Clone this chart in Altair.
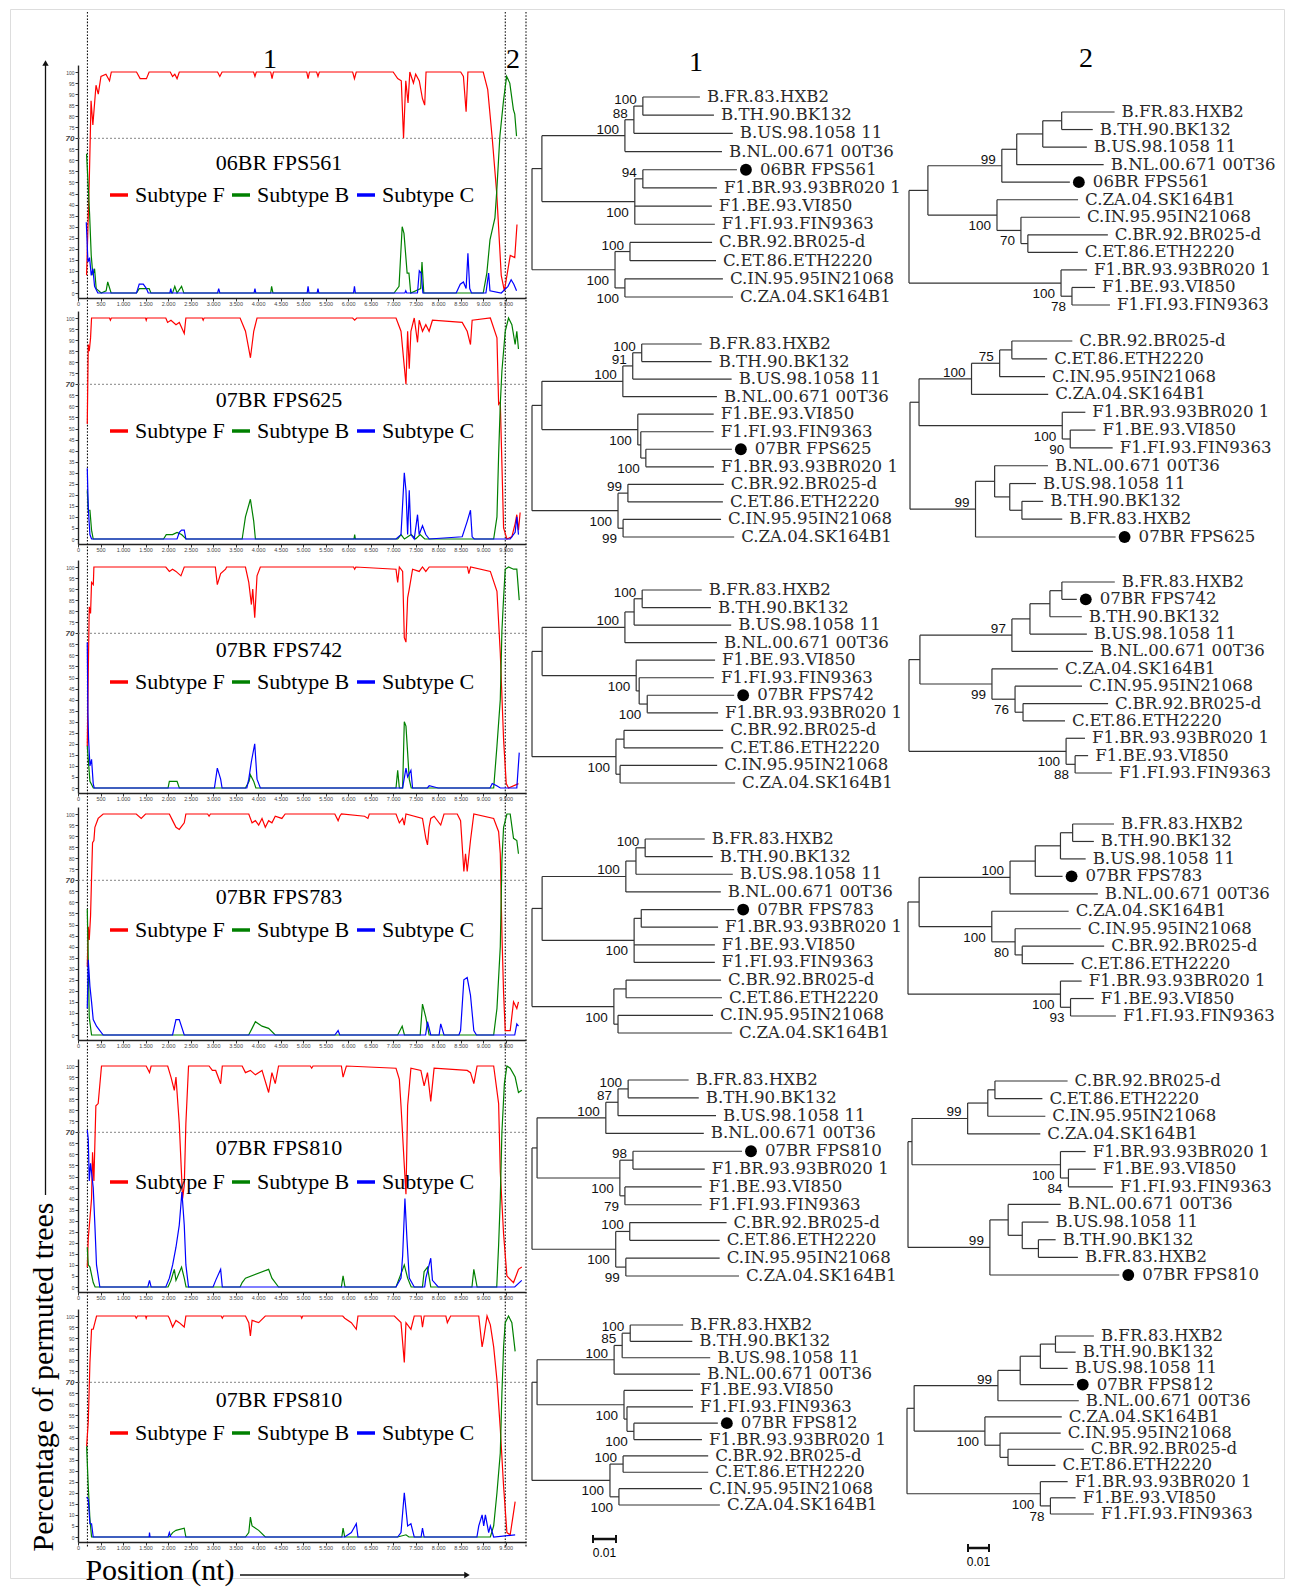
import altair as alt
import pandas as pd

# ======================= DATA =======================
boot_titles = ["06BR FPS561", "07BR FPS625", "07BR FPS742", "07BR FPS783", "07BR FPS810", "07BR FPS810"]
tree_queries = ["06BR FPS561", "07BR FPS625", "07BR FPS742", "07BR FPS783", "07BR FPS810", "07BR FPS812"]
series_names = ["Subtype F", "Subtype B", "Subtype C"]
series_colors = ["#ff0000", "#008000", "#0000ff"]

# bootscan curves: (position nt, % permuted trees) vertices
red = [
    [(190,8),(250,50),(290,87),(330,76),(400,94),(450,90),(510,98),(620,99),(700,96),(740,100),(1300,100),(1380,97),(1520,97),(1580,100),(2050,100),(2100,98),(2150,99),(2200,97),(2250,100),(3100,100),(3150,98),(3200,100),(3900,100),(3930,98),(3960,100),(4280,100),(4310,97),(4340,100),(5080,100),(5110,97),(5140,100),(5300,100),(5330,98),(5360,100),(6100,100),(6140,97),(6180,100),(7000,100),(7100,97),(7180,96),(7230,70),(7280,96),(7330,86),(7370,100),(7450,95),(7500,99),(7580,96),(7650,88),(7700,85),(7730,100),(8500,100),(8560,98),(8620,82),(8660,100),(9000,100),(9100,92),(9200,70),(9300,45),(9400,8),(9470,1),(9600,17),(9700,16),(9750,31)],
    [(206,52),(228,88),(250,85),(279,91),(301,100),(700,100),(720,99),(740,100),(1500,100),(1515,99),(1530,100),(1950,100),(1990,98),(2065,99),(2176,97),(2250,98),(2360,93),(2396,100),(2760,100),(2780,99),(2800,100),(3600,100),(3720,94),(3830,82),(3903,94),(3976,100),(6100,100),(6145,99),(6190,100),(7063,100),(7174,94),(7247,78),(7284,70),(7321,94),(7357,77),(7394,94),(7468,100),(7541,89),(7578,99),(7651,94),(7725,97),(7798,94),(7872,99),(8533,98),(8644,94),(8717,88),(8754,99),(9158,100),(9305,91),(9342,61),(9379,62),(9415,34),(9452,5),(9526,0),(9636,1),(9709,7),(9746,11),(9783,4),(9820,12)],
    [(206,19),(228,52),(250,82),(279,79),(301,93),(340,92),(353,100),(1950,100),(2029,98),(2100,99),(2176,98),(2286,96),(2360,100),(3050,100),(3094,92),(3168,97),(3278,99),(3300,100),(3719,100),(3793,93),(3851,83),(3881,90),(3925,77),(3976,96),(4050,100),(6120,100),(6145,99),(6170,100),(7063,99),(7100,93),(7137,100),(7210,98),(7247,68),(7284,66),(7321,86),(7357,90),(7431,99),(7578,98),(7651,100),(7725,98),(7800,100),(8650,100),(8680,97),(8720,100),(9158,98),(9305,89),(9379,61),(9452,22),(9511,2),(9562,0),(9783,2)],
    [(206,31),(228,49),(250,43),(279,54),(301,71),(323,87),(353,88),(375,94),(448,98),(559,100),(1294,100),(1404,98),(1500,100),(2029,100),(2102,97),(2176,94),(2249,93),(2360,96),(2396,100),(2880,100),(2911,99),(2940,100),(3793,100),(3866,96),(3940,97),(4013,95),(4087,98),(4160,94),(4234,97),(4307,96),(4381,99),(4528,98),(4601,100),(5704,100),(5777,97),(5814,99),(5850,100),(6365,99),(6439,98),(6470,100),(7063,100),(7137,96),(7210,98),(7247,95),(7284,100),(7651,98),(7725,89),(7762,86),(7798,94),(7835,98),(7909,99),(8056,95),(8129,100),(8423,100),(8497,97),(8570,74),(8607,82),(8644,74),(8717,88),(8791,100),(9232,98),(9342,92),(9379,82),(9415,46),(9452,19),(9489,2),(9599,2),(9673,15),(9746,12),(9783,15)],
    [(206,9),(228,22),(265,31),(301,40),(323,61),(353,48),(397,82),(448,83),(522,100),(1514,100),(1588,97),(1624,100),(1992,100),(2065,95),(2139,89),(2176,95),(2249,74),(2323,40),(2360,46),(2396,74),(2455,100),(2911,100),(2984,98),(3058,98),(3168,92),(3205,100),(3646,100),(3719,97),(3829,98),(3940,96),(4087,98),(4234,88),(4307,97),(4381,92),(4454,100),(5160,100),(5190,99),(5220,100),(5850,100),(5887,95),(5961,100),(7063,99),(7137,94),(7174,82),(7247,55),(7284,42),(7321,82),(7394,99),(7615,98),(7688,91),(7762,97),(7835,84),(7909,99),(8644,98),(8717,97),(8791,92),(8864,100),(9232,100),(9342,83),(9379,52),(9452,24),(9526,5),(9673,2),(9783,8),(9856,9)],
    [(191,41),(228,52),(265,79),(301,94),(338,94),(375,97),(412,100),(1270,100),(1294,99),(1320,100),(1500,100),(1514,99),(1530,100),(2000,100),(2029,99),(2102,95),(2176,98),(2249,97),(2359,95),(2396,100),(3180,100),(3205,99),(3230,100),(3719,100),(3793,97),(3829,91),(3866,98),(4013,97),(4160,100),(4950,100),(4969,99),(4990,100),(5880,100),(5924,99),(6071,97),(6181,94),(6218,100),(7027,100),(7174,97),(7247,79),(7284,97),(7394,94),(7468,100),(7620,100),(7651,95),(7688,100),(8170,100),(8203,97),(8276,100),(8901,100),(8975,86),(9011,90),(9085,100),(9158,96),(9232,86),(9305,71),(9379,49),(9452,23),(9526,2),(9599,1),(9673,11),(9709,16)],
]
green = [
    [(190,63),(220,51),(257,36),(294,17),(331,8),(368,11),(404,2),(515,0),(625,1),(660,5),(735,0),(1300,0),(1360,2),(1580,2),(1620,0),(2100,0),(2150,3),(2200,0),(2300,3),(2350,0),(4280,0),(4300,3),(4330,0),(7020,0),(7130,3),(7200,30),(7240,27),(7310,9),(7350,9),(7390,0),(7610,2),(7640,14),(7680,0),(9000,0),(9080,9),(9150,24),(9260,34),(9300,46),(9370,71),(9450,87),(9520,98),(9590,95),(9670,83),(9700,81),(9740,71)],
    [(206,22),(228,13),(265,13),(301,4),(338,0),(1900,0),(1960,2),(2100,2),(2200,3),(2300,2),(2400,0),(3646,0),(3719,10),(3829,18),(3903,8),(3940,0),(6130,0),(6145,2),(6160,0),(7100,0),(7174,2),(7250,0),(7400,2),(7500,0),(7600,2),(7700,0),(9232,0),(9305,10),(9342,38),(9379,61),(9415,76),(9489,94),(9562,100),(9636,97),(9709,88),(9746,94),(9783,86)],
    [(206,19),(228,13),(265,3),(340,0),(2000,0),(2029,3),(2200,3),(2250,0),(3719,0),(3800,3),(3829,6),(3903,3),(3950,0),(7063,0),(7100,8),(7137,0),(7210,0),(7247,30),(7284,28),(7321,16),(7357,4),(7400,0),(9232,0),(9305,19),(9379,40),(9415,71),(9452,86),(9489,99),(9562,100),(9673,99),(9746,99),(9800,85)],
    [(206,57),(228,34),(250,8),(301,0),(3790,0),(3866,3),(3940,6),(4087,4),(4234,3),(4380,0),(7100,0),(7200,4),(7250,0),(7600,0),(7651,14),(7725,8),(7798,0),(9232,0),(9305,12),(9379,40),(9415,79),(9452,94),(9526,100),(9599,100),(9673,89),(9746,88),(9783,82)],
    [(206,18),(228,10),(265,9),(338,2),(380,0),(2000,0),(2065,3),(2139,8),(2176,3),(2300,9),(2360,4),(2400,0),(3600,0),(3646,2),(3719,4),(4234,8),(4307,4),(4454,0),(5850,0),(5887,5),(5930,0),(7063,0),(7174,6),(7247,10),(7321,4),(7400,0),(7650,0),(7688,7),(7762,9),(7835,0),(8750,0),(8791,8),(8864,0),(9300,0),(9342,19),(9379,40),(9415,70),(9470,92),(9526,100),(9599,99),(9709,95),(9783,88),(9856,89)],
    [(191,41),(228,23),(265,8),(301,0),(2029,0),(2102,2),(2176,3),(2359,4),(2396,0),(3719,0),(3793,2),(3829,9),(3866,5),(4013,3),(4160,0),(5860,0),(5887,4),(5924,0),(7100,0),(7284,1),(7350,0),(9158,0),(9232,5),(9305,20),(9379,38),(9415,65),(9452,86),(9489,97),(9562,100),(9636,97),(9709,84)],
]
blue = [
    [(184,32),(221,14),(257,16),(294,8),(331,11),(368,3),(440,0),(1300,0),(1360,4),(1450,4),(1520,2),(1560,0),(2040,0),(2060,2),(2080,0),(3100,0),(3125,2),(3150,0),(3910,0),(3930,2),(3950,0),(5090,0),(5110,3),(5130,0),(5310,0),(5330,2),(5350,0),(6120,0),(6140,3),(6160,0),(7260,0),(7280,1),(7300,0),(7540,0),(7580,10),(7620,9),(7660,0),(8400,0),(8490,4),(8560,5),(8620,2),(8660,18),(8700,2),(8740,0),(9060,0),(9120,9),(9150,1),(9400,0),(9550,3),(9620,6),(9680,4),(9740,1)],
    [(206,32),(228,14),(265,2),(301,0),(2200,0),(2250,3),(2300,4),(2360,4),(2396,0),(7063,0),(7174,2),(7247,30),(7284,22),(7321,2),(7357,22),(7394,2),(7468,0),(7541,11),(7578,2),(7651,6),(7725,2),(7800,0),(8533,1),(8644,8),(8717,13),(8754,1),(8800,0),(9600,0),(9709,3),(9746,10),(9783,2)],
    [(206,66),(220,34),(235,22),(265,10),(301,13),(338,2),(360,0),(3030,0),(3094,9),(3168,4),(3200,0),(3750,0),(3793,4),(3851,12),(3925,20),(3976,4),(4050,0),(7210,0),(7284,9),(7321,5),(7394,8),(7431,0),(7760,0),(7800,1),(8000,0),(9150,0),(9200,2),(9300,1),(9380,0),(9746,0),(9800,16)],
    [(206,12),(228,34),(265,22),(301,15),(338,7),(411,4),(485,2),(560,0),(2100,0),(2176,7),(2249,7),(2360,0),(5704,0),(5777,2),(5814,0),(7720,0),(7762,6),(7835,0),(8020,0),(8056,5),(8129,0),(8460,0),(8497,2),(8570,25),(8644,26),(8717,18),(8791,2),(8850,0),(9700,0),(9746,5),(9783,4)],
    [(206,71),(228,67),(250,48),(279,56),(301,52),(338,45),(375,28),(411,10),(485,0),(1550,0),(1588,3),(1624,0),(1950,0),(2029,4),(2102,10),(2176,18),(2249,28),(2308,43),(2360,28),(2396,10),(2455,0),(3000,0),(3058,3),(3168,8),(3205,0),(7063,0),(7174,4),(7210,14),(7261,40),(7305,22),(7357,4),(7468,0),(7700,0),(7725,4),(7798,10),(7835,13),(7872,3),(8000,0),(9700,0),(9856,3)],
    [(191,18),(228,17),(265,6),(301,6),(338,0),(1580,0),(1588,2),(1600,0),(2000,0),(2029,2),(2060,0),(5924,0),(6071,2),(6181,6),(6218,0),(7100,0),(7174,2),(7247,20),(7321,5),(7394,6),(7468,0),(7620,0),(7651,4),(7688,0),(8860,0),(8901,5),(8975,10),(9011,5),(9048,10),(9121,2),(9158,5),(9232,0),(9709,1)],
]

breakpoints = [210, 9490, 9950]           # dotted region borders (nt)
x_ticks = list(range(0, 10000, 500))       # 0 .. 9.500
y_ticks = list(range(0, 101, 5))
threshold = 70

leaf_labels = {
    "HXB2": "B.FR.83.HXB2", "BK132": "B.TH.90.BK132", "US": "B.US.98.1058 11",
    "NL": "B.NL.00.671 00T36", "VI": "F1.BE.93.VI850", "FIN": "F1.FI.93.FIN9363",
    "BR020": "F1.BR.93.93BR020 1", "BR025": "C.BR.92.BR025-d", "ETH": "C.ET.86.ETH2220",
    "IN": "C.IN.95.95IN21068", "ZA": "C.ZA.04.SK164B1",
}
# Trees (branch lengths in 0.001 substitutions/site, bootstrap support; suffix b = label below)
trees_region1 = [
    "(((((HXB2:24.8,BK132:30.9)100:3.9,US:43)88:3.9,NL:42.2)100:36.1,((Q:40.9,BR020:32.2)94:3.5,VI:33.5,FIN:34.8)100b:40.4):4.3,((BR025:35.7,ETH:37.4)100:6.5,(IN:42.6,ZA:47)100b:4.3)100b:36.1);",
    "(((((HXB2:26.1,BK132:30.4)100:3.9,US:43)91:4.3,NL:40.9)100:35.2,(VI:33,(FIN:31.7,(Q:37.4,BR020:29.6)100b:2.2):1.3)100b:41.7):4.3,((BR025:41.7,ETH:41.3)99:4.3,(IN:42.6,ZA:48.3)99b:2.2)100b:37.4);",
    "(((((HXB2:25.9,BK132:29.9)100:3.5,US:42.2):4,NL:40)100:36,(VI:34.3,(FIN:32.5,(Q:37.8,BR020:30.8)100b:3.5):1.3)100b:40.9):4.4,((BR025:43.1,ETH:43.1):3.5,(IN:42.2,ZA:50):1.8)100b:36.5);",
    "(((((HXB2:25.9,BK132:29.4)100:4,US:42.1):4.4,NL:41.3)100:36.4,((Q:40.4,BR020:33.4):3.1,VI:35.1,FIN:35.1)100b:40):4.4,((BR025:41.3,ETH:41.7):5.3,(IN:41.3,ZA:49.6):1.8)100b:35.6);",
    "(((((HXB2:26.3,BK132:30.7)100:4.4,US:42.6)87:5.3,NL:42.6)100:29.9,((Q:47.4,BR020:31.2)98:5.7,(VI:33.4,FIN:33.4)79b:2.2)100b:36):2.2,((BR025:42.1,ETH:39.1)100:6.1,(IN:40.8,ZA:49.2)99b:4.4)100b:36.4);",
    "(((((HXB2:23,BK132:27)100:3.5,US:38.3)85:3.5,NL:37.4)100:33.5,(VI:30,(FIN:28.7,(Q:36.5,BR020:29.6)100b:3):1.3)100b:37.8):2.2,((BR025:37,ETH:37)100:5.7,(IN:36.1,ZA:43.9)100b:3.9)100b:33.9);",
]
trees_region2 = [
    "((((((HXB2:25.2,BK132:14.8):9,US:21):12.4,NL:41.4):7.1,Q:32.4)99:35.2,(ZA:38.6,(IN:28.1,(BR025:38.1,ETH:23.8):3.3)70b:11.4)100b:32.9):9,(BR020:12.4,(VI:11,FIN:18.1)78b:5.2)100b:72.4);",
    "(((((BR025:28.8,ETH:16.8):5.8,IN:21.6)75:13.4,ZA:36.5)100:25,(BR020:11,(VI:12,FIN:20.2)90b:3.8)100b:68.2):4.3,((NL:25.4,(US:12.5,(BK132:10.1,HXB2:19.2):5.8):7.2):9.1,Q:66.7)99:31.2);",
    "((((((HXB2:25.2,Q:7.1):5.7,BK132:15.2):9.5,US:27.1):8.6,NL:38.6)97:43.8,(ZA:31.4,(IN:31.9,(BR025:40.5,ETH:20):3.8)76b:11)99b:34.3):5.2,(BR020:9,(VI:6.2,FIN:17.6)88b:4.3)100b:74.8);",
    "((((((HXB2:19.7,BK132:10.1):5.8,US:12):12,Q:13):12,NL:41.8)100:43.3,(ZA:36.6,(IN:31.3,(BR025:39,ETH:24.5):3.4)80b:11.1)100b:34.6):5.3,(BR020:10.1,(VI:11.1,FIN:21.6)93b:4.8)100b:72.6);",
    "(((((BR025:34.6,ETH:22.6):3.4,IN:27.4):9.6,ZA:34.6)99:26.5,(BR020:12,(VI:13,FIN:21.2)84b:3.8)100b:70.7):1.9,((NL:25,(US:12.5,(BK132:8.2,HXB2:18.8):7.7):6.7):8.7,Q:61.6)99:39);",
    "((((((HXB2:18.3,BK132:9.6):7.2,US:13):9.6,Q:25.5):10.6,NL:38.5)99:39.9,(ZA:36.6,(IN:28.9,(BR025:36.1,ETH:22.6):3.8):7.2)100b:33.7):3.4,(BR020:13,(VI:12,FIN:20.7)78b:4.8)100b:63.5);",
]
scale_bar_len = 10  # 0.01 substitutions/site in the same 0.001 units
scale_bar_text = "0.01"

# ======================= LAYOUT =======================
OX, OY = 10, 9           # page position of the framed view
W, H = 1274, 1569
def vx(p): return p - OX
def vy(p): return p - OY

BS_LEFT, BS_RIGHT, BS_XMAX = 78, 526, 9950
BS_Y100 = [72, 318, 567, 814, 1066, 1316]
BS_PPU = 2.21
YDOM = [-2.25, 103.15]
TITLE_DY = [91, 82, 83, 83, 82, 84]
LEGEND_DY = [123, 113, 115, 116, 116, 117]

T1_ROOT = [532] * 6
T1_Y = [(97, 297), (344, 537), (590, 783), (839, 1033), (1080, 1276), (1325, 1505)]
T2_ROOT = [909, 910, 909, 908, 908, 907]
T2_Y = [(112, 305), (341, 537), (582, 773), (824, 1016), (1081, 1275), (1336, 1514)]
PPM1, PPM2 = 2.3, 2.1    # pixels per 0.001 subst/site

SERIF = "Liberation Serif"
SANS = "Liberation Sans"
LEAF_FONT = "DejaVu Serif"
LEAF_SIZE = 16.6


def sc(domain, rng):
    return alt.Scale(domain=domain, range=rng, nice=False, zero=False)


def label_at(text, px, py, size, font=SERIF, angle=0, align="center", color="black"):
    return alt.Chart(pd.DataFrame({"t": [text]})).mark_text(
        font=font, fontSize=size, angle=angle, align=align, baseline="middle", color=color
    ).encode(x=alt.value(vx(px)), y=alt.value(vy(py)), text="t:N")


layers = []

# ---- global dotted region borders ----
xs0 = sc([0, BS_XMAX], [vx(BS_LEFT), vx(BS_RIGHT)])
layers.append(
    alt.Chart(pd.DataFrame({"b": breakpoints})).mark_rule(
        color="#111", strokeDash=[1.6, 1.6], strokeWidth=1.1
    ).encode(x=alt.X("b:Q", scale=xs0, axis=None), y=alt.value(vy(12)), y2=alt.value(vy(1548)))
)

# ---- bootscan panels ----
label_expr = "replace(format(datum.value, ','), ',', '.')"
for k in range(6):
    xs = sc([0, BS_XMAX], [vx(BS_LEFT), vx(BS_RIGHT)])
    top_px = BS_Y100[k] - (YDOM[1] - 100) * BS_PPU
    bot_px = BS_Y100[k] + (100 - YDOM[0]) * BS_PPU
    ys = sc(YDOM, [vy(bot_px), vy(top_px)])

    rows = []
    for name, pts in zip(series_names, [red[k], green[k], blue[k]]):
        for p, v in pts:
            rows.append({"pos": p, "val": v, "series": name})
    df = pd.DataFrame(rows)

    xaxis = alt.Axis(
        orient="bottom", offset=vy(bot_px) - H, values=x_ticks, labelExpr=label_expr,
        labelFont=SANS, labelFontSize=5.5, labelColor="#444", labelPadding=1,
        tickSize=3, tickColor="#333", domainColor="#222", domainWidth=1.4,
        title=None, grid=False, labelOverlap=False, labelFlush=False,
    )
    yaxis = alt.Axis(
        orient="left", offset=-vx(BS_LEFT), values=y_ticks,
        labelFont=SANS, labelColor="#444", labelPadding=1,
        labelFontSize={"condition": {"test": "datum.value == 70", "value": 8}, "value": 5},
        labelFontWeight={"condition": {"test": "datum.value == 70", "value": "bold"}, "value": "normal"},
        labelFontStyle={"condition": {"test": "datum.value == 70", "value": "italic"}, "value": "normal"},
        tickSize=3, tickColor="#333", domainColor="#222", domainWidth=1.4,
        title=None, grid=False, labelOverlap=False, labelFlush=False,
    )
    legend = alt.Legend(
        orient="none", legendX=vx(108), legendY=vy(BS_Y100[k] + LEGEND_DY[k]) - 11,
        direction="horizontal", columns=3, title=None,
        labelFont=SERIF, labelFontSize=22, labelColor="black", labelLimit=400,
        symbolType="stroke", symbolStrokeWidth=3.5, symbolSize=324,
        labelOffset=5, columnPadding=0, padding=0,
    )
    lines = alt.Chart(df).mark_line(strokeWidth=1.2).encode(
        x=alt.X("pos:Q", scale=xs, axis=xaxis),
        y=alt.Y("val:Q", scale=ys, axis=yaxis),
        color=alt.Color("series:N", scale=alt.Scale(domain=series_names, range=series_colors), legend=legend),
    )
    thr = alt.Chart(pd.DataFrame({"x0": [0], "x1": [BS_XMAX], "y": [threshold]})).mark_rule(
        color="#777", strokeDash=[2, 2], strokeWidth=0.9
    ).encode(x=alt.X("x0:Q", scale=xs, axis=None), x2="x1:Q", y=alt.Y("y:Q", scale=ys, axis=None))
    title = label_at(boot_titles[k], 279, BS_Y100[k] + TITLE_DY[k], 22)
    layers += [thr, lines, title]


# ---- trees ----
def parse_newick(s):
    s = s.strip().rstrip(";")
    i = 0

    def node():
        nonlocal i
        n = {"ch": [], "name": None, "sup": None, "flag": "a", "len": 0.0}
        if s[i] == "(":
            i += 1
            while True:
                n["ch"].append(node())
                if s[i] == ",":
                    i += 1
                else:
                    i += 1
                    break
        j = i
        while i < len(s) and s[i] not in ":,()":
            i += 1
        lab = s[j:i]
        if n["ch"]:
            if lab:
                if lab[-1] in "ab":
                    n["flag"] = lab[-1]
                    lab = lab[:-1]
                n["sup"] = lab
        else:
            n["name"] = lab
        if i < len(s) and s[i] == ":":
            i += 1
            j = i
            while i < len(s) and s[i] not in ",()":
                i += 1
            n["len"] = float(s[j:i])
        return n

    return node()


def tree_layers(newick, qlabel, rootx, yr, ppm):
    root = parse_newick(newick)
    segs, leaves, sups = [], [], []
    count = [0]

    def walk(n, x0, depth):
        x = x0 + n["len"]
        n["x"] = x
        if not n["ch"]:
            n["y"] = count[0]
            count[0] += 1
            leaves.append(n)
        else:
            for c in n["ch"]:
                walk(c, x, depth + 1)
            y_a, y_b = n["ch"][0]["y"], n["ch"][-1]["y"]
            n["y"] = (y_a + y_b) / 2
            segs.append({"x": x, "x2": x, "y": y_a, "y2": y_b})
            if n["sup"]:
                sups.append(n)
        if depth > 0:
            segs.append({"x": x0, "x2": x, "y": n["y"], "y2": n["y"]})

    walk(root, 0.0, 0)
    nleaf = count[0]
    ppi = (yr[1] - yr[0]) / (nleaf - 1)
    xs = sc([0, 100], [vx(rootx), vx(rootx) + 100 * ppm])
    ys = sc([0, nleaf - 1], [vy(yr[0]), vy(yr[1])])

    seg = alt.Chart(pd.DataFrame(segs)).mark_rule(color="#333", strokeWidth=1.2).encode(
        x=alt.X("x:Q", scale=xs, axis=None), x2="x2:Q",
        y=alt.Y("y:Q", scale=ys, axis=None), y2="y2:Q",
    )
    lrows = []
    for lf in leaves:
        is_q = lf["name"] == "Q"
        lrows.append({
            "xt": lf["x"] + (23 if is_q else 7) / ppm,
            "y": lf["y"],
            "t": qlabel if is_q else leaf_labels[lf["name"]],
        })
    txt = alt.Chart(pd.DataFrame(lrows)).mark_text(
        align="left", baseline="middle", font=LEAF_FONT, fontSize=LEAF_SIZE, color="#2a2a2a"
    ).encode(x=alt.X("xt:Q", scale=xs, axis=None), y=alt.Y("y:Q", scale=ys, axis=None), text="t:N")
    q = [lf for lf in leaves if lf["name"] == "Q"][0]
    dot = alt.Chart(pd.DataFrame({"x": [q["x"] + 9 / ppm], "y": [q["y"]]})).mark_point(
        filled=True, size=140, color="black", opacity=1, shape="circle"
    ).encode(x=alt.X("x:Q", scale=xs, axis=None), y=alt.Y("y:Q", scale=ys, axis=None))
    srows = [{"x": n["x"], "y": n["y"] + (-6 if n["flag"] == "a" else 11) / ppi, "t": n["sup"]} for n in sups]
    sup = alt.Chart(pd.DataFrame(srows)).mark_text(
        align="right", baseline="middle", dx=-6, font=SANS, fontSize=13.5, color="#111"
    ).encode(x=alt.X("x:Q", scale=xs, axis=None), y=alt.Y("y:Q", scale=ys, axis=None), text="t:N")
    return [seg, txt, dot, sup]


for k in range(6):
    layers += tree_layers(trees_region1[k], tree_queries[k], T1_ROOT[k], T1_Y[k], PPM1)
    layers += tree_layers(trees_region2[k], tree_queries[k], T2_ROOT[k], T2_Y[k], PPM2)


def scale_bar(x0, ybar, ppm):
    xs = sc([0, scale_bar_len], [vx(x0), vx(x0) + scale_bar_len * ppm])
    bar = alt.Chart(pd.DataFrame({"a": [0], "b": [scale_bar_len]})).mark_rule(
        color="#111", strokeWidth=2.5
    ).encode(x=alt.X("a:Q", scale=xs, axis=None), x2="b:Q", y=alt.value(vy(ybar)))
    ends = alt.Chart(pd.DataFrame({"t": [0, scale_bar_len]})).mark_rule(
        color="#111", strokeWidth=2
    ).encode(x=alt.X("t:Q", scale=xs, axis=None), y=alt.value(vy(ybar - 4)), y2=alt.value(vy(ybar + 4)))
    lab = label_at(scale_bar_text, x0 + scale_bar_len * ppm / 2, ybar + 14, 12, font=SANS)
    return [bar, ends, lab]


layers += scale_bar(593, 1539, PPM1)
layers += scale_bar(968, 1548, PPM2)

# ---- column headers ----
layers += [
    label_at("1", 270, 60, 28), label_at("2", 513, 60, 28),
    label_at("1", 696, 63, 28), label_at("2", 1086, 59, 28),
]

# ---- axis titles with arrows ----
layers.append(label_at("Percentage of permuted trees", 44, 1377, 30, angle=270))
layers.append(
    alt.Chart(pd.DataFrame({"v": [1]})).mark_rule(color="#111", strokeWidth=1.3).encode(
        x=alt.value(vx(45.5)), y=alt.value(vy(1195)), y2=alt.value(vy(64)))
)
layers.append(
    alt.Chart(pd.DataFrame({"v": [1]})).mark_point(shape="triangle-up", filled=True, size=40, color="#111", opacity=1).encode(
        x=alt.value(vx(45.5)), y=alt.value(vy(63)))
)
layers.append(label_at("Position (nt)", 160, 1571, 30))
layers.append(
    alt.Chart(pd.DataFrame({"v": [1]})).mark_rule(color="#111", strokeWidth=1.3).encode(
        x=alt.value(vx(240)), x2=alt.value(vx(466)), y=alt.value(vy(1575)))
)
layers.append(
    alt.Chart(pd.DataFrame({"v": [1]})).mark_point(shape="triangle-right", filled=True, size=40, color="#111", opacity=1).encode(
        x=alt.value(vx(467)), y=alt.value(vy(1575)))
)

chart = (
    alt.layer(*layers)
    .properties(width=W, height=H, padding={"left": 2, "top": 1, "right": 1, "bottom": 1})
    .resolve_scale(x="independent", y="independent", color="independent")
    .resolve_legend(color="independent")
    .configure_view(stroke="#333", strokeWidth=1.3, cornerRadius=12)
    .configure(background="white")
)

chart.save("out.html", embed_options={"renderer": "svg", "actions": False})
